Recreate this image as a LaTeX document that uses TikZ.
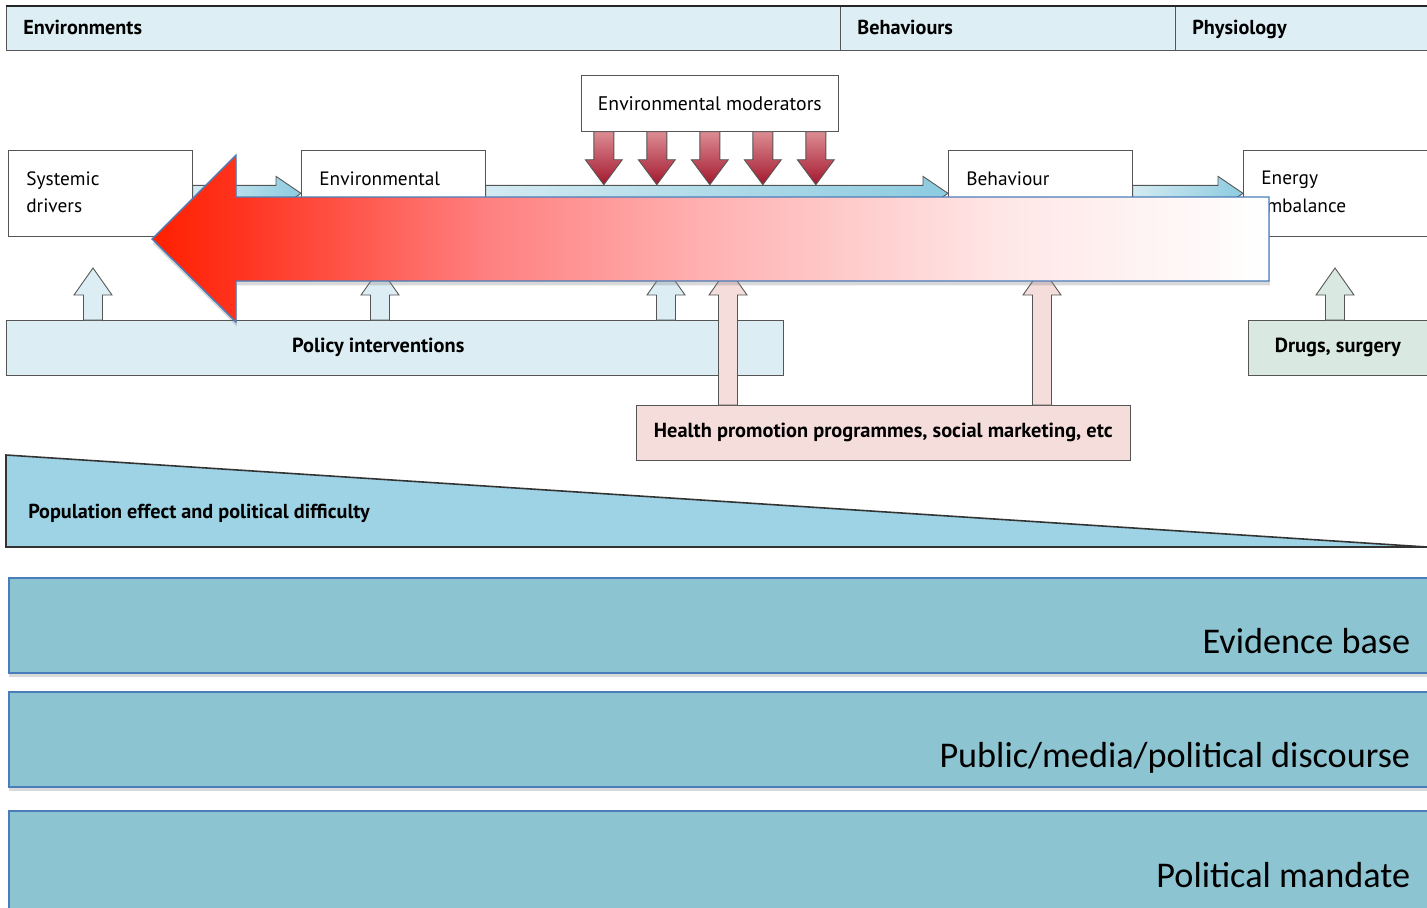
\documentclass[tikz,border=0pt]{standalone}
\usepackage{fontspec}
\setmainfont{PT Sans}
\newfontfamily\barfont{Carlito}
\usepackage{tikz}
\usetikzlibrary{calc,positioning,shadows,backgrounds}
\definecolor{OBHead}{HTML}{DDEEF4}
\definecolor{OBLine}{HTML}{555555}
\definecolor{OBPolicy}{HTML}{DCEEF4}
\definecolor{OBDrug}{HTML}{D9E8E1}
\definecolor{OBHealth}{HTML}{F5DDDB}
\definecolor{OBWedge}{HTML}{9DD3E4}
\definecolor{OBBar}{HTML}{8CC4D2}
\definecolor{OBBarLine}{HTML}{4A7EBB}
\definecolor{OBRed}{HTML}{FF2000}
\definecolor{OBRedB}{HTML}{FF3420}
\definecolor{OBSalmon}{HTML}{FF8080}
\definecolor{OBPink}{HTML}{FFB2B2}
\definecolor{OBBlush}{HTML}{FFE6E6}
\definecolor{OBFlowL}{HTML}{D3EAF1}
\definecolor{OBFlowD}{HTML}{8DCBE0}
\definecolor{OBModL}{HTML}{DC8C93}
\definecolor{OBModD}{HTML}{A3182E}
% red to white fade for the big arrow
\pgfdeclarehorizontalshading{obfade}{100bp}{color(0bp)=(OBRed); color(25bp)=(OBRed);
  color(29bp)=(OBRedB); color(40bp)=(OBSalmon); color(50bp)=(OBPink);
  color(63bp)=(OBBlush); color(75bp)=(white); color(100bp)=(white)}
% block arrows: style, base node/anchor, tip
\newcommand{\blkup}[3]{%
  \path[#1] let \p1=(#2), \p2=(#3) in
    (\x2-0.19cm,\y1) -- (\x2-0.19cm,\y2-0.54cm) -- (\x2-0.38cm,\y2-0.54cm)
    -- (\x2,\y2) -- (\x2+0.38cm,\y2-0.54cm) -- (\x2+0.19cm,\y2-0.54cm)
    -- (\x2+0.19cm,\y1) -- cycle;}
\newcommand{\blkdown}[3]{%
  \path[#1] let \p1=(#2), \p2=(#3) in
    (\x2-0.2cm,\y1) -- (\x2-0.2cm,\y2+0.5cm) -- (\x2-0.37cm,\y2+0.5cm)
    -- (\x2,\y2) -- (\x2+0.37cm,\y2+0.5cm) -- (\x2+0.2cm,\y2+0.5cm)
    -- (\x2+0.2cm,\y1) -- cycle;}
\newcommand{\blkright}[3]{%
  \path[#1] let \p1=(#2), \p2=(#3) in
    (\x1,\y2+0.16cm) -- (\x2-0.5cm,\y2+0.16cm) -- (\x2-0.5cm,\y2+0.34cm)
    -- (\x2,\y2) -- (\x2-0.5cm,\y2-0.34cm) -- (\x2-0.5cm,\y2-0.16cm)
    -- (\x1,\y2-0.16cm) -- cycle;}
\tikzset{
  obhead/.style={
    draw=OBLine,
    fill=OBHead,
    anchor=north west,
    minimum height=0.88cm,
    inner xsep=0.34cm,
    text height=1.9ex,
    text depth=0.4ex,
    align=left,
    font=\fontsize{11.5}{13}\selectfont\bfseries
  },
  obstage/.style={
    draw=OBLine,
    fill=white,
    anchor=north west,
    minimum width=3.68cm,
    minimum height=1.72cm
  },
  obstagetext/.style={
    anchor=north west,
    inner sep=0pt,
    xshift=0.36cm,
    yshift=-0.42cm,
    align=left,
    font=\fontsize{11}{15.6}\selectfont
  },
  obbox/.style={
    draw=OBLine,
    anchor=north west,
    minimum height=1.1cm,
    text height=1.6ex,
    text depth=0.5ex,
    font=\fontsize{11.6}{13}\selectfont\bfseries
  },
  obbar/.style={
    draw=OBBarLine,
    line width=1pt,
    fill=OBBar,
    anchor=north west,
    minimum width=28.48cm,
    minimum height=1.9cm,
    drop shadow={shadow xshift=0pt,shadow yshift=-2.5pt,opacity=0.3}
  },
  obbartext/.style={
    anchor=base east,
    inner sep=0pt,
    xshift=-0.46cm,
    yshift=-1.54cm,
    font=\barfont\fontsize{20.6}{24}\selectfont
  },
  obflow/.style={draw=OBLine,line width=0.5pt,left color=OBFlowL,right color=OBFlowD},
  obmod/.style={draw=OBLine,line width=0.5pt,top color=OBModL,bottom color=OBModD},
  obpolup/.style={draw=OBLine,line width=0.5pt,fill=OBPolicy},
  obhpup/.style={draw=OBLine,line width=0.5pt,fill=OBHealth},
  obdrugup/.style={draw=OBLine,line width=0.5pt,fill=OBDrug}
}
\begin{document}
\begin{tikzpicture}[x=0.02cm,y=-0.02cm]
  \useasboundingbox (0,0) rectangle (1427,907);
  % header
  \node[obhead,text width=16.0cm] (henv) at (6,6) {Environments};
  \node[obhead,text width=6.02cm] (hbeh) at (840,6) {Behaviours};
  \node[obhead,text width=4.36cm] (hphy) at (1175,6) {Physiology};
  \draw[line width=1.2pt,black!85] (henv.north west) -- (hphy.north east);
  % causal chain
  \node[obstage,label={[obstagetext]north west:Systemic\\drivers}] (sysdrv) at (8,150) {};
  \node[obstage,label={[obstagetext]north west:Environmental}] (envdrv) at (301,150) {};
  \node[obstage,label={[obstagetext]north west:Behaviour}] (behav) at (948,150) {};
  \node[obstage,label={[obstagetext]north west:Energy\\imbalance}] (enbal) at (1243,150) {};
  \begin{scope}[on background layer]
    \blkright{obflow}{sysdrv.east}{envdrv.west}
    \blkright{obflow}{envdrv.east}{behav.west}
    \blkright{obflow}{behav.east}{enbal.west}
  \end{scope}
  \node[draw=OBLine,fill=white,anchor=north west,minimum width=5.14cm,minimum height=1.12cm,
    font=\fontsize{11.2}{13}\selectfont] (envmod) at (581,75) {Environmental moderators};
  \foreach \k in {-2,...,2}
    \blkdown{obmod}{$(envmod.south)+(\k*53,0)$}{$(envmod.south)+(\k*53,53)$};
  % interventions
  \node[obbox,fill=OBPolicy,minimum width=15.54cm] (policy) at (6,320) {Policy interventions\hspace*{0.66cm}};
  \node[obbox,fill=OBDrug,minimum width=3.58cm] (drugs) at (1248,320) {Drugs, surgery};
  \node[obbox,fill=OBHealth,minimum width=9.88cm] (health) at (636,405)
    {Health promotion programmes, social marketing, etc};
  \coordinate (tipsys) at (93,268);
  \coordinate (tipenv) at (380,268);
  \coordinate (tipmid) at (666,268);
  \coordinate (tiphpa) at (728,268);
  \coordinate (tiphpb) at (1042,268);
  \coordinate (tipdrug) at (1335,268);
  \blkup{obpolup}{policy.north}{tipsys}
  \blkup{obpolup}{policy.north}{tipenv}
  \blkup{obpolup}{policy.north}{tipmid}
  \blkup{obdrugup}{drugs.north}{tipdrug}
  \blkup{obhpup}{health.north}{tiphpa}
  \blkup{obhpup}{health.north}{tiphpb}
  % wedge
  \path[draw=black!80,line width=0.9pt,fill=OBWedge] (6,455) -- (1427,547) -- (6,547) -- cycle;
  \draw[line width=1.6pt,black!80] (6,547) -- (1427,547);
  \node[anchor=base west,inner sep=0pt,font=\fontsize{11.5}{13}\selectfont\bfseries] (popfx) at (28,518)
    {Population effect and political difficulty};
  % big arrow
  \path[draw=OBBarLine,line width=0.8pt,shading=obfade,
    drop shadow={shadow xshift=0.5pt,shadow yshift=-2.5pt,opacity=0.3}]
    (1269,197) -- (236,197) -- (236,155) -- (152,239) -- (236,322) -- (236,281) -- (1269,281) -- cycle;
  % bars
  \node[obbar,label={[obbartext]north east:Evidence base}] (evid) at (8,577) {};
  \node[obbar,label={[obbartext]north east:Public/media/political discourse}] (disc) at (8,691) {};
  \node[obbar,minimum height=2.1cm,label={[obbartext]north east:Political mandate}] (mand) at (8,810) {};
\end{tikzpicture}
\end{document}
